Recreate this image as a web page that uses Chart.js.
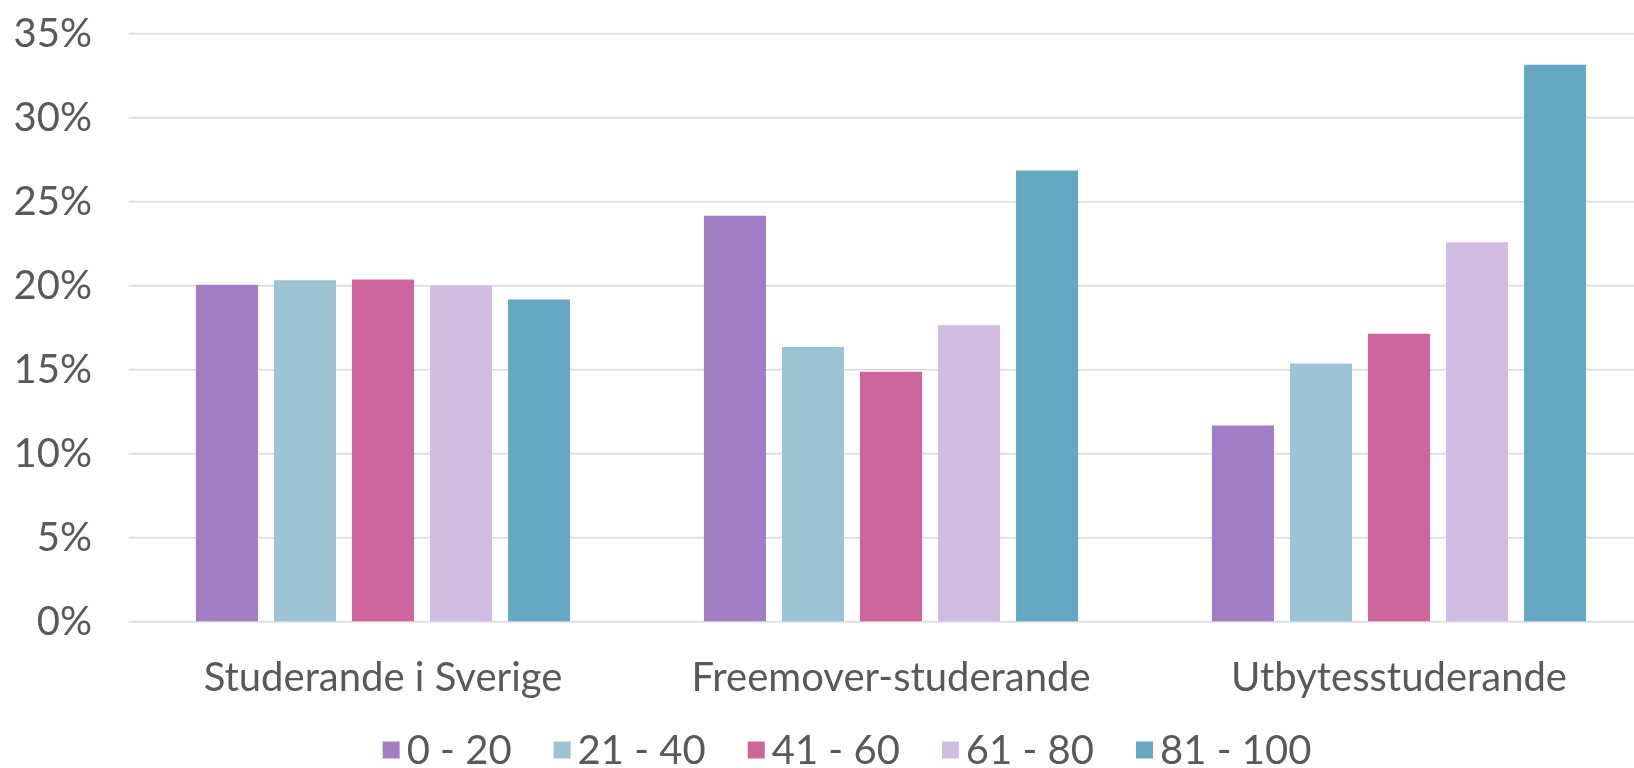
<!DOCTYPE html>
<html>
<head>
<meta charset="utf-8">
<script src="https://cdn.jsdelivr.net/npm/chart.js@4/dist/chart.umd.min.js"></script>
<style>
    html, body { margin: 0; padding: 0; background: #fff; overflow: hidden; }
    #page { position: relative; width: 1634px; height: 768px; overflow: hidden; }
    #wrap { position: absolute; left: 0; top: -27px; width: 1694px; height: 795px; }
</style>
</head>
<body>
<div id="page"><div id="wrap"><canvas id="chart"></canvas></div></div>
<script>
// Categories and age bands
const categories = ['Studerande i Sverige', 'Freemover-studerande', 'Utbytesstuderande'];
const bands = ['0 - 20', '21 - 40', '41 - 60', '61 - 80', '81 - 100'];

// Share per band (%), one value per category
const band0_20 = [20.07, 24.18, 11.7];
const band21_40 = [20.34, 16.37, 15.38];
const band41_60 = [20.38, 14.9, 17.16];
const band61_80 = [20.03, 17.67, 22.6];
const band81_100 = [19.2, 26.87, 33.17];

const yTicks = [0, 5, 10, 15, 20, 25, 30, 35];

const colors = ['#A17EC4', '#9CC4D5', '#CF659D', '#D0BDE1', '#66A8C1'];
const textColor = '#595959';
const fontFamily = "Lato, 'Open Sans', sans-serif";
const fontSize = 40;

const series = [band0_20, band21_40, band41_60, band61_80, band81_100];

// Legend drawn by hand so the box/text spacing matches the original
const bottomLegend = {
    id: 'bottomLegend',
    afterDraw(chart) {
        const ctx = chart.ctx;
        const box = 17, gap = 7, spacing = 42, cy = 777;
        ctx.save();
        ctx.font = `${fontSize}px ${fontFamily}`;
        ctx.textBaseline = 'middle';
        const items = chart.data.datasets.map(ds => ({
            label: ds.label, color: ds.backgroundColor, w: ctx.measureText(ds.label).width
        }));
        const total = items.reduce((s, it) => s + box + gap + it.w, 0) + spacing * (items.length - 1);
        let x = chart.width / 2 - total / 2;
        items.forEach(it => {
            ctx.fillStyle = it.color;
            ctx.fillRect(x, cy - box / 2, box, box);
            ctx.fillStyle = textColor;
            ctx.fillText(it.label, x + box + gap, cy + 1);
            x += box + gap + it.w + spacing;
        });
        ctx.restore();
    }
};

new Chart(document.getElementById('chart'), {
    type: 'bar',
    data: {
        labels: categories,
        datasets: series.map((d, i) => ({
            label: bands[i],
            data: d,
            backgroundColor: colors[i],
            categoryPercentage: 0.768,
            barPercentage: 0.795
        }))
    },
    options: {
        responsive: true,
        maintainAspectRatio: false,
        animation: false,
        layout: { padding: { top: 5, right: 41, left: 0, bottom: 0 } },
        plugins: {
            legend: { display: false },
            tooltip: { enabled: false }
        },
        scales: {
            x: {
                grid: { display: false },
                border: { display: false },
                ticks: { color: textColor, font: { family: fontFamily, size: fontSize }, padding: 24 },
                afterFit: s => { s.height = 146; }
            },
            y: {
                min: 0,
                max: 35,
                afterBuildTicks: s => { s.ticks = yTicks.map(v => ({ value: v })); },
                grid: { color: '#d9d9d9', lineWidth: 1.5, drawTicks: false },
                border: { display: false },
                ticks: {
                    color: textColor,
                    font: { family: fontFamily, size: fontSize },
                    padding: 37,
                    callback: v => v + '%'
                },
                afterFit: s => { s.width = 129; }
            }
        }
    },
    plugins: [bottomLegend]
});
</script>
</body>
</html>
